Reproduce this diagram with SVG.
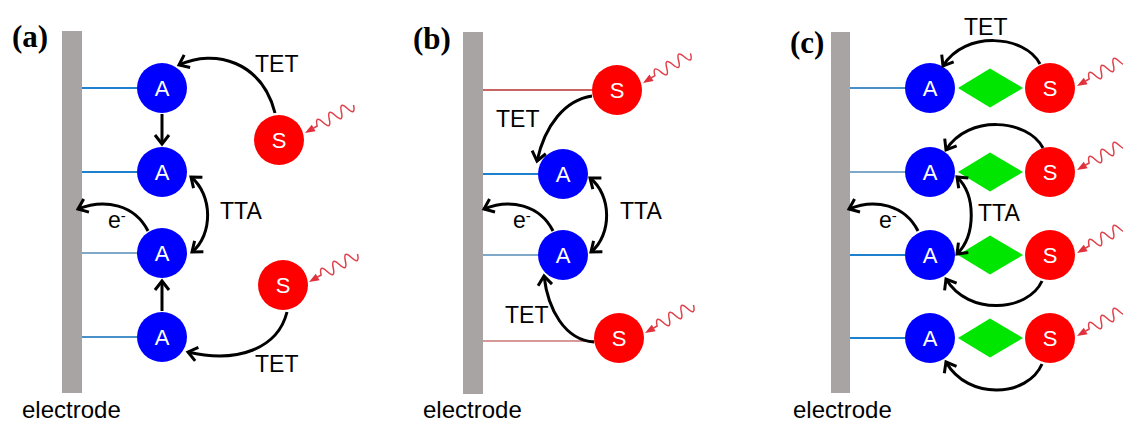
<svg xmlns="http://www.w3.org/2000/svg" width="1123" height="421" viewBox="0 0 1123 421">
<defs>
<marker id="ah" markerUnits="userSpaceOnUse" markerWidth="20" markerHeight="20" viewBox="-12 -10 14 20" refX="0" refY="0" orient="auto-start-reverse">
<path d="M-9,-7 L0,0 L-9,7" fill="none" stroke="#000" stroke-width="3" stroke-linejoin="miter"/>
</marker>
<g id="wave">
<path d="M0,0 L10,-3.8 L10,3.8 Z" fill="#E0303C"/>
<path d="M8,0 L14,0 q3.5 -11 7 0 t7 0 t7 0 t7 0 t7 0 t7 0" fill="none" stroke="#E0404A" stroke-width="1.5"/>
</g>
<style>
.bar{fill:#A8A4A4}
.a{fill:#0000FF}
.s{fill:#FF0000}
.d{fill:#00E600}
.nl{font-family:"Liberation Sans",Arial,sans-serif;font-size:22px;fill:#fff;text-anchor:middle}
.lb{font-family:"Liberation Sans",Arial,sans-serif;font-size:23px;fill:#000}
.el{font-family:"Liberation Sans",Arial,sans-serif;font-size:24px;fill:#000}
.pl{font-family:"Liberation Serif","Times New Roman",serif;font-size:31px;font-weight:bold;fill:#000}
.arr{fill:none;stroke:#000;stroke-width:3;marker-end:url(#ah)}
.dbl{fill:none;stroke:#000;stroke-width:3;marker-end:url(#ah);marker-start:url(#ah)}
.lk1{stroke:#2080D0;stroke-width:2}
.lk2{stroke:#80A8C8;stroke-width:2}
.lk3{stroke:#4A90C8;stroke-width:2}
.lr1{stroke:#C86464;stroke-width:2}
.lr2{stroke:#D89898;stroke-width:2}
</style>
</defs>
<rect width="1123" height="421" fill="#fff"/>

<!-- Panel (a) -->
<text class="pl" x="12" y="47">(a)</text>
<g id="a-electrode"><rect class="bar" x="62" y="31" width="20" height="362"/><text class="el" x="22" y="418">electrode</text></g>
<g id="a-links">
<line class="lk1" x1="82" y1="88" x2="138" y2="88"/>
<line class="lk1" x1="82" y1="172" x2="138" y2="172"/>
<line class="lk2" x1="82" y1="253" x2="138" y2="253"/>
<line class="lk3" x1="82" y1="337" x2="138" y2="337"/>
</g>
<g id="a-A1"><circle class="a" cx="162" cy="88" r="25"/><text class="nl" x="162" y="96">A</text></g>
<g id="a-A2"><circle class="a" cx="162" cy="172" r="25"/><text class="nl" x="162" y="180">A</text></g>
<g id="a-A3"><circle class="a" cx="162" cy="253" r="25"/><text class="nl" x="162" y="261">A</text></g>
<g id="a-A4"><circle class="a" cx="162" cy="337" r="25"/><text class="nl" x="162" y="345">A</text></g>
<g id="a-S1"><circle class="s" cx="279" cy="140" r="25"/><text class="nl" x="279" y="148">S</text><use href="#wave" transform="translate(305,133) rotate(-30)"/></g>
<g id="a-S2"><circle class="s" cx="283" cy="285" r="25"/><text class="nl" x="283" y="293">S</text><use href="#wave" transform="translate(309,282) rotate(-30)"/></g>

<!-- Panel (b) -->
<text class="pl" x="413" y="49">(b)</text>
<g id="b-electrode"><rect class="bar" x="463" y="32" width="20" height="362"/><text class="el" x="423" y="418">electrode</text></g>
<g id="b-links">
<line class="lr1" x1="483" y1="90" x2="593" y2="90"/>
<line class="lk1" x1="483" y1="174" x2="539" y2="174"/>
<line class="lk2" x1="483" y1="255" x2="539" y2="255"/>
<line class="lr2" x1="483" y1="341" x2="595" y2="341"/>
</g>
<g id="b-S1"><circle class="s" cx="617" cy="90" r="25"/><text class="nl" x="617" y="98">S</text><use href="#wave" transform="translate(643,83) rotate(-32)"/></g>
<g id="b-A1"><circle class="a" cx="563" cy="174" r="25"/><text class="nl" x="563" y="182">A</text></g>
<g id="b-A2"><circle class="a" cx="563" cy="255" r="25"/><text class="nl" x="563" y="263">A</text></g>
<g id="b-S2"><circle class="s" cx="619" cy="338" r="25"/><text class="nl" x="619" y="346">S</text><use href="#wave" transform="translate(645,333) rotate(-30)"/></g>

<!-- Panel (c) -->
<text class="pl" x="790" y="53">(c)</text>
<g id="c-electrode"><rect class="bar" x="831" y="32" width="19" height="361"/><text class="el" x="793" y="418">electrode</text></g>
<g id="c-links">
<line class="lk3" x1="850" y1="88" x2="906" y2="88"/>
<line class="lk2" x1="850" y1="172" x2="906" y2="172"/>
<line class="lk1" x1="850" y1="255" x2="906" y2="255"/>
<line class="lk1" x1="850" y1="338" x2="906" y2="338"/>
</g>
<g id="c-row1">
<polygon class="d" points="958,88 990,68.5 1023,88 990,107.5"/>
<circle class="a" cx="930" cy="88" r="25"/><text class="nl" x="930" y="96">A</text>
<circle class="s" cx="1050" cy="88" r="25"/><text class="nl" x="1050" y="96">S</text>
<use href="#wave" transform="translate(1077,86) rotate(-30)"/>
</g>
<g id="c-row2">
<polygon class="d" points="958,172 990,152.5 1023,172 990,191.5"/>
<circle class="a" cx="930" cy="172" r="25"/><text class="nl" x="930" y="180">A</text>
<circle class="s" cx="1050" cy="172" r="25"/><text class="nl" x="1050" y="180">S</text>
<use href="#wave" transform="translate(1077,170) rotate(-30)"/>
</g>
<g id="c-row3">
<polygon class="d" points="958,255 990,235.5 1023,255 990,274.5"/>
<circle class="a" cx="930" cy="255" r="25"/><text class="nl" x="930" y="263">A</text>
<circle class="s" cx="1050" cy="255" r="25"/><text class="nl" x="1050" y="263">S</text>
<use href="#wave" transform="translate(1077,253) rotate(-30)"/>
</g>
<g id="c-row4">
<polygon class="d" points="958,338 990,318.5 1023,338 990,357.5"/>
<circle class="a" cx="930" cy="338" r="25"/><text class="nl" x="930" y="346">A</text>
<circle class="s" cx="1050" cy="338" r="25"/><text class="nl" x="1050" y="346">S</text>
<use href="#wave" transform="translate(1077,336) rotate(-30)"/>
</g>

<!-- Connectors -->
<g id="connectors">
<path class="arr" d="M275,113 C262,62 215,48 179,65"/>
<line class="arr" x1="162" y1="114" x2="162" y2="144"/>
<path class="dbl" d="M191,177 C213,195 213,235 192,252"/>
<path class="arr" d="M148,231 C135,205 105,198 78,209"/>
<line class="arr" x1="162" y1="311" x2="162" y2="281"/>
<path class="arr" d="M287,312 C278,348 238,364 188,352"/>

<path class="arr" d="M592,96 C565,100 545,125 537,161"/>
<path class="dbl" d="M590,178 C612,195 612,235 591,252"/>
<path class="arr" d="M553,231 C540,205 510,198 484,209"/>
<path class="arr" d="M594,342 C565,340 548,310 544,276"/>

<path class="arr" d="M1040,64 C1025,35 965,30 943,66"/>
<path class="arr" d="M1043,148 C1028,119 968,114 946,150"/>
<path class="dbl" d="M957,177 C976,195 976,235 957,254"/>
<path class="arr" d="M918,231 C905,205 875,198 849,209"/>
<path class="arr" d="M1042,281 C1028,312 968,316 946,279"/>
<path class="arr" d="M1042,364 C1028,397 968,401 946,362"/>
</g>

<g id="labels">
<text class="lb" x="255" y="72">TET</text>
<text class="lb" x="220" y="219">TTA</text>
<text class="lb" x="108" y="228" font-size="19">e<tspan dy="-7" font-size="15">-</tspan></text>
<text class="lb" x="255" y="372">TET</text>

<text class="lb" x="496" y="127">TET</text>
<text class="lb" x="620" y="219">TTA</text>
<text class="lb" x="513" y="228" font-size="19">e<tspan dy="-7" font-size="15">-</tspan></text>
<text class="lb" x="505" y="323">TET</text>

<text class="lb" x="964" y="35">TET</text>
<text class="lb" x="978" y="221">TTA</text>
<text class="lb" x="879" y="228" font-size="19">e<tspan dy="-7" font-size="15">-</tspan></text>
</g>
</svg>
